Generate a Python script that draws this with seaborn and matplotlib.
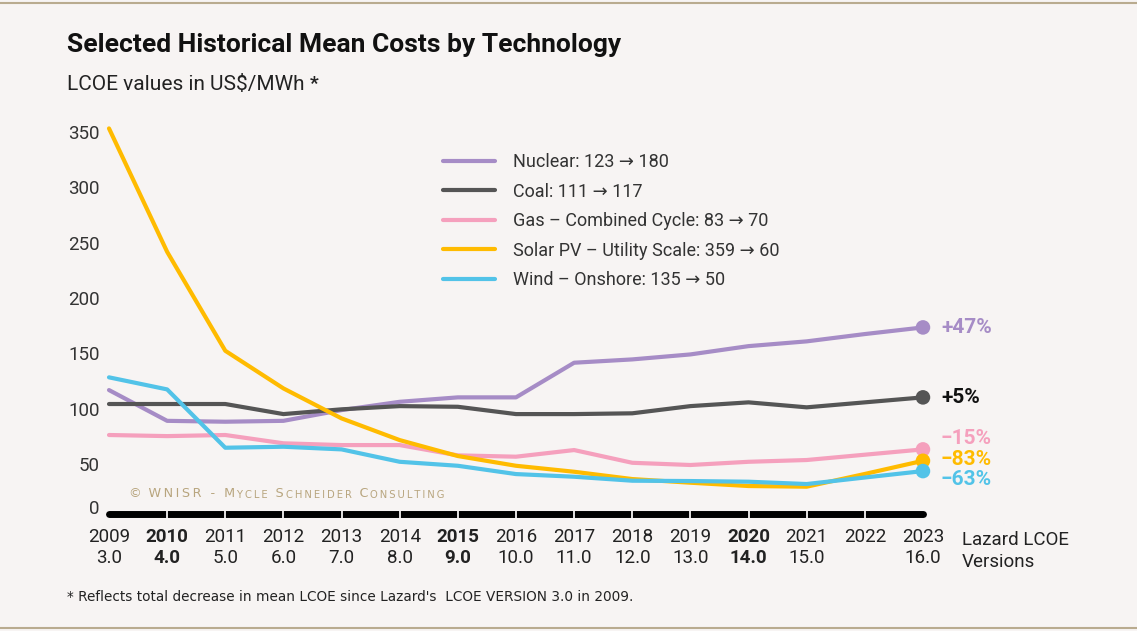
import numpy as np
import pandas as pd
import matplotlib
matplotlib.use("Agg")
import matplotlib.pyplot as plt
import seaborn as sns
from matplotlib.lines import Line2D

# data (axis units)
years = list(range(2009, 2024))
versions = ["3.0", "4.0", "5.0", "6.0", "7.0", "8.0", "9.0", "10.0", "11.0",
            "12.0", "13.0", "14.0", "15.0", "", "16.0"]
bold_years = [2010, 2015, 2020]

nuclear = [116.8, 89.0, 88.2, 89.0, 98.7, 106.2, 110.2, 110.2, 141.5, 144.5,
           149.0, 156.5, 160.8, 167.4, 173.4]
coal = [104.2, 104.2, 104.2, 95.1, 99.4, 102.3, 101.7, 95.1, 95.1, 95.8,
        102.3, 105.7, 101.2, 105.7, 110.2]
gas = [76.2, 75.2, 76.2, 68.7, 67.1, 67.1, 57.8, 56.6, 62.6, 51.1, 49.1,
       52.0, 53.6, 58.4, 63.2]
solar = [353.2, 241.7, 152.3, 118.3, 91.2, 71.6, 57.2, 48.4, 43.0, 36.4,
         33.1, 30.1, 29.5, 41.0, 52.9]
wind = [128.3, 117.4, 64.7, 65.6, 63.2, 52.0, 48.4, 40.9, 38.5, 34.9, 34.6,
        34.0, 31.9, 37.8, 43.6]

series_names = ["Nuclear: 123 \u2192 180", "Coal: 111 \u2192 117",
                "Gas \u2013 Combined Cycle: 83 \u2192 70",
                "Solar PV \u2013 Utility Scale: 359 \u2192 60",
                "Wind \u2013 Onshore: 135 \u2192 50"]
change_labels = ["+47%", "+5%", "\u221215%", "\u221283%", "\u221263%"]
label_y = [173.4, 110.2, 73.4, 54.5, 36.4]

colors = ["#a68cc6", "#555555", "#f5a0bd", "#ffbb00", "#52c3e8"]
label_colors = ["#a68cc6", "#111111", "#f5a0bd", "#ffbb00", "#52c3e8"]

bg = "#f7f4f3"
sns.set_theme(style="white")
plt.rcParams["font.family"] = ["Roboto", "DejaVu Sans"]

df = pd.DataFrame({"year": years, series_names[0]: nuclear, series_names[1]: coal,
                   series_names[2]: gas, series_names[3]: solar,
                   series_names[4]: wind})
long = df.melt(id_vars="year", var_name="tech", value_name="lcoe")

W, H = 1137, 631
fig = plt.figure(figsize=(W / 100, H / 100), dpi=100, facecolor=bg)
ax = fig.add_axes([104 / W, (H - 522) / H, (935 - 104) / W, (522 - 120) / H])
ax.set_facecolor(bg)

sns.lineplot(data=long, x="year", y="lcoe", hue="tech", palette=colors,
             linewidth=3, ax=ax, legend=False)

# end markers
ends = long[long.year == 2023]
sns.scatterplot(data=ends, x="year", y="lcoe", hue="tech", palette=colors,
                s=110, edgecolor="none", ax=ax, legend=False, zorder=5)

for txt, yv, c in zip(change_labels, label_y, label_colors):
    ax.text(2023.31, yv, txt, color=c, fontsize=15, fontweight="semibold",
            va="center", ha="left", clip_on=False)

# segmented base bar
ax.plot([years[0], years[-1]], [4.8, 4.8], color="black", linewidth=5,
        solid_capstyle="round", zorder=3)
ax.plot(years[1:-1], [4.8] * (len(years) - 2), ls="none", marker="|", ms=7,
        mew=1.3, color=bg, zorder=4)

ax.set_xlim(2009 - 5 / 58.14, 2009 + (935 - 109) / 58.14)
ax.set_ylim(-2.4, 360.8)
for s in ax.spines.values():
    s.set_visible(False)

yt = [11, 50, 100, 150, 200, 250, 300, 350]
ax.set_yticks(yt, labels=["0"] + [str(v) for v in yt[1:]])
ax.tick_params(axis="y", length=0, pad=3, labelsize=13.5, labelcolor="#333333")
ax.set_xticks(years, labels=[f"{y}\n{v}" for y, v in zip(years, versions)])
ax.tick_params(axis="x", length=0, pad=4, labelsize=13.5, labelcolor="#222222")
for lab, y in zip(ax.get_xticklabels(), years):
    lab.set_linespacing(1.25)
    if y in bold_years:
        lab.set_fontweight("bold")
ax.set_xlabel("")
ax.set_ylabel("")

fig.text(962 / W, 1 - 551 / H, "Lazard LCOE\nVersions", fontsize=13.5,
         color="#222222", ha="left", va="center", linespacing=1.25)

handles = [Line2D([0], [0], color=c, lw=3) for c in colors]
ax.legend(handles, series_names, loc="upper left",
          bbox_to_anchor=(443 / W, 1 - 153 / H), bbox_transform=fig.transFigure,
          frameon=False, fontsize=13, handlelength=2.9, handletextpad=1.0,
          labelspacing=0.64, borderpad=0, borderaxespad=0, labelcolor="#333333")

# watermark in letter-spaced small caps, built piece by piece
ts = "\u2009"
wm = [("\u00a9 ", 9.2), ("WNISR - M", 9.2), ("YCLE ", 7.2), ("S", 9.2),
      ("CHNEIDER ", 7.2), ("C", 9.2), ("ONSULTING", 7.2)]
prev = ax.text(2009.35, 20, wm[0][0], color="#b8a57e", fontsize=wm[0][1],
               va="baseline", ha="left", family=["DejaVu Sans"])
for piece, fs in wm[1:]:
    spaced = ts + ts.join(piece)
    prev = ax.annotate(spaced, xy=(1, 0), xycoords=prev, xytext=(0, 0),
                       textcoords="offset points", color="#b8a57e", fontsize=fs,
                       va="bottom", ha="left", family=["DejaVu Sans"])

fig.text(67 / W, 1 - 45 / H, "Selected Historical Mean Costs by Technology",
         fontsize=19, fontweight="bold", color="#111111", va="center")
sub = fig.text(67 / W, 1 - 85 / H, "LCOE values in US$/MWh", fontsize=15,
               color="#222222", va="center")
ax.annotate("*", xy=(1, 0.55), xycoords=sub, xytext=(4, 0),
            textcoords="offset points", fontsize=14, fontweight="bold",
            color="#222222", va="center", ha="left")
fig.text(67 / W, 1 - 597 / H,
         "* Reflects total decrease in mean LCOE since Lazard's  LCOE VERSION 3.0 in 2009.",
         fontsize=9.8, color="#222222", va="center",
         family=["Liberation Sans Narrow", "DejaVu Sans"])

fig.add_artist(Line2D([0, 1], [1 - 3 / H, 1 - 3 / H], color="#b9ab8f", lw=1.5,
                      transform=fig.transFigure))
fig.add_artist(Line2D([0, 1], [1 - 628 / H, 1 - 628 / H], color="#b9ab8f", lw=1.5,
                      transform=fig.transFigure))

fig.savefig("out.png", dpi=100, facecolor=bg)
